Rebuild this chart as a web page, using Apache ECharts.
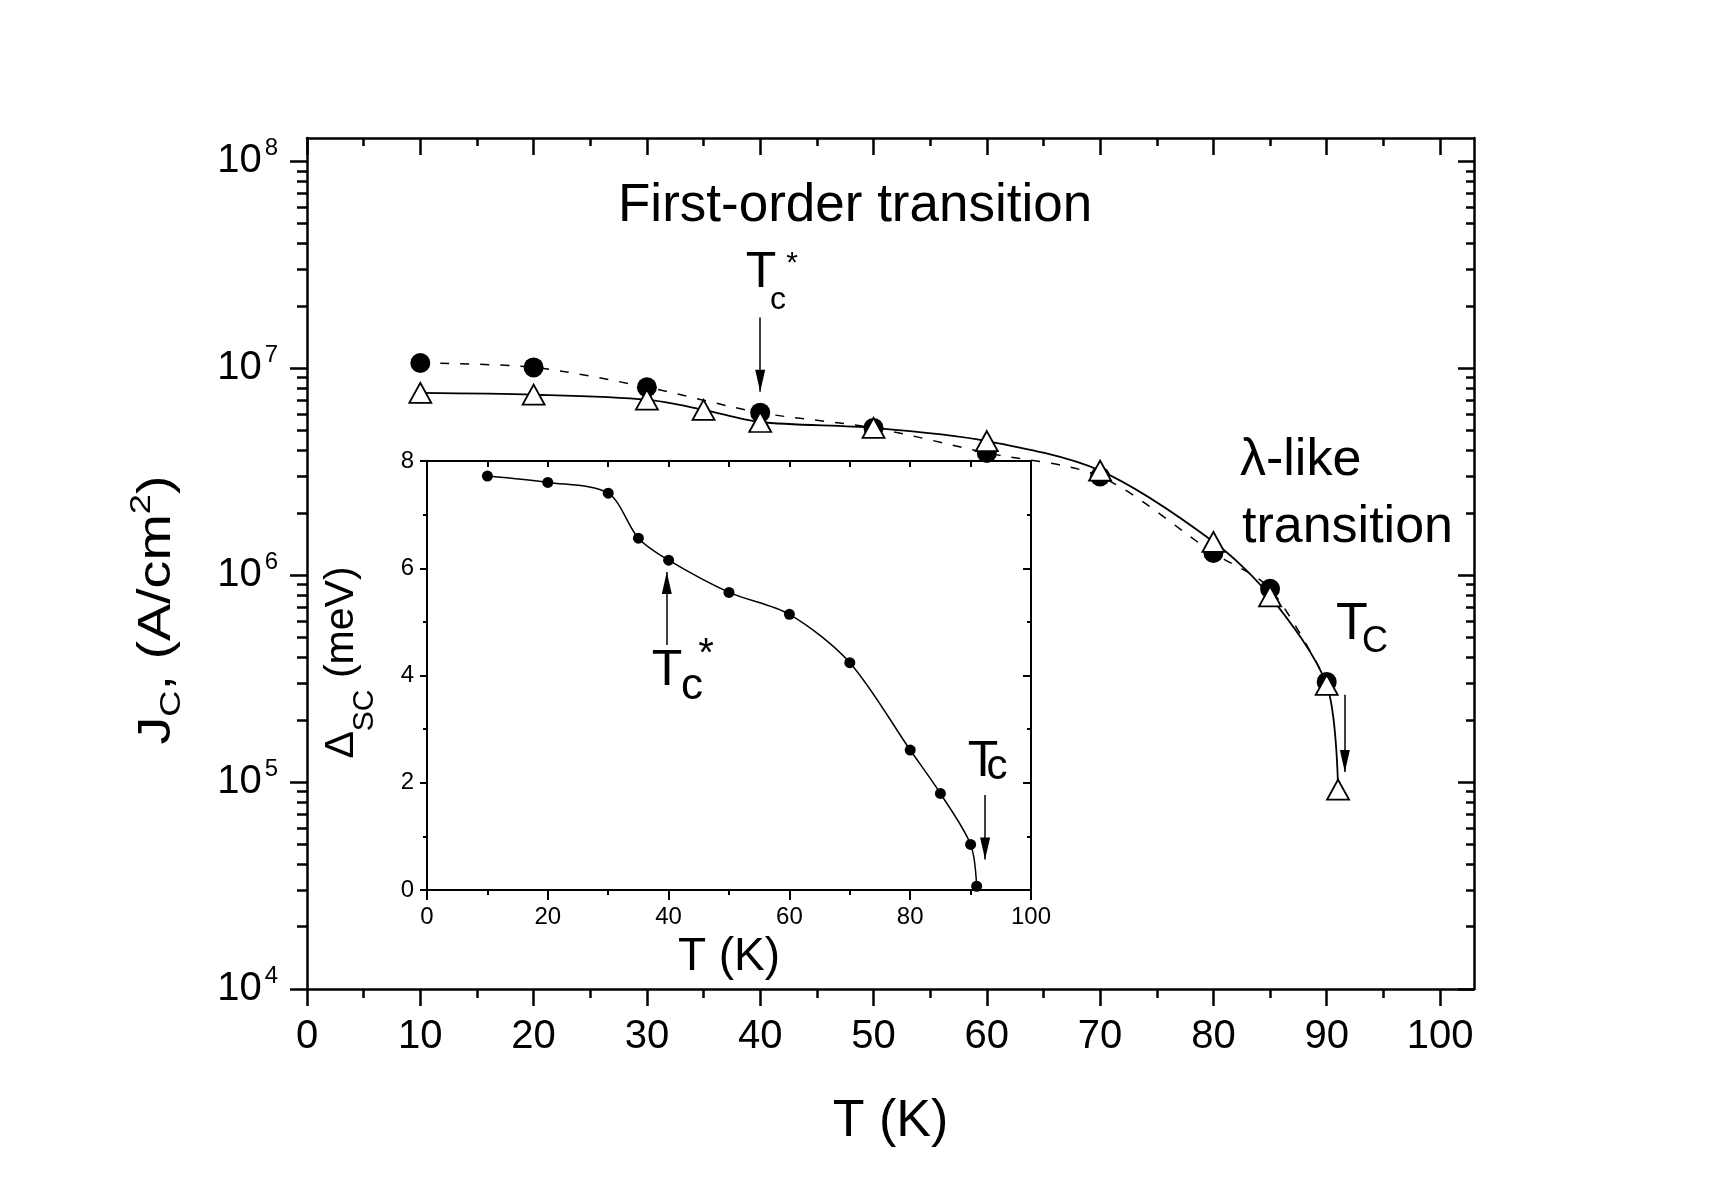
<!DOCTYPE html>
<html>
<head>
<meta charset="utf-8">
<title>Jc(T) and gap(T)</title>
<script src="https://cdn.jsdelivr.net/npm/echarts@6/dist/echarts.min.js"></script>
<style>
html, body { margin: 0; padding: 0; background: #fff; }
#main { width: 1710px; height: 1186px; }
</style>
</head>
<body>
<div id="main"></div>
<script>
// main panel: Jc (A/cm^2) vs T, two data sets
var circleT = [10, 20, 30, 40, 50, 60, 70, 80, 85, 90];
var circleJc = [1.06e7, 1.01e7, 8.1e6, 6.1e6, 5.15e6, 3.9e6, 3.0e6, 1.28e6, 8.6e5, 3.05e5];
var triangleT = [10, 20, 30, 35, 40, 50, 60, 70, 80, 85, 90, 91];
var triangleJc = [7.6e6, 7.45e6, 7.05e6, 6.3e6, 5.5e6, 5.15e6, 4.45e6, 3.2e6, 1.45e6, 7.9e5, 2.95e5, 9.2e4];

// inset: superconducting gap (meV) vs T
var gapT = [10, 20, 30, 35, 40, 50, 60, 70, 80, 85, 90, 91];
var gapMeV = [7.72, 7.60, 7.40, 6.56, 6.15, 5.55, 5.14, 4.24, 2.61, 1.80, 0.85, 0.07];

// ticks
var mainXTicks = [0, 10, 20, 30, 40, 50, 60, 70, 80, 90, 100];
var mainXMinor = [5, 15, 25, 35, 45, 55, 65, 75, 85, 95];
var mainYTicks = [1e4, 1e5, 1e6, 1e7, 1e8];
var insetXTicks = [0, 20, 40, 60, 80, 100];
var insetXMinor = [10, 30, 50, 70, 90];
var insetYTicks = [0, 2, 4, 6, 8];
var insetYMinor = [1, 3, 5, 7];

// arrows [from, to] in data units
var mainArrows = [[[40, 1.76e7], [40, 7.7e6]], [[91.6, 2.64e5], [91.6, 1.12e5]]];
var insetArrows = [[[39.7, 4.57], [39.7, 5.93]], [[92.4, 1.77], [92.4, 0.57]]];

var black = '#000';
var fontName = '"Liberation Sans", Arial, sans-serif';
var mainXRange = [0, 103];
var mainYRange = [1e4, 1.297e8];
var insetXRange = [0, 100];
var insetYRange = [0, 8];

var mainYMinor = [];
mainYTicks.slice(0, -1).forEach(function (d) {
    for (var k = 2; k <= 9; k++) {
        mainYMinor.push(k * d);
    }
});

var pairs = function (xs, ys) {
    return xs.map(function (x, i) { return [x, ys[i]]; });
};

var tickAxis = function (type, grid, pos, range, values, len, inside, width) {
    var a = {
        type: type,
        gridIndex: grid,
        position: pos,
        min: range[0],
        max: range[1],
        axisLine: { show: false, onZero: false },
        axisTick: {
            show: true, inside: inside, length: len, customValues: values,
            lineStyle: { color: black, width: width }
        },
        axisLabel: { show: false },
        splitLine: { show: false },
        minorTick: { show: false },
        nameMoveOverlap: false
    };
    if (type === 'log') {
        a.logBase = 10;
    }
    return a;
};

var withLine = function (a, width) {
    a.axisLine = { show: true, onZero: false, lineStyle: { color: black, width: width } };
    return a;
};

// main x
var mX0 = withLine(tickAxis('value', 0, 'bottom', mainXRange, mainXTicks, 17, false, 2.5), 2.5);
mX0.axisLabel = { show: true, customValues: mainXTicks, fontSize: 40, fontFamily: fontName, color: black, margin: 28 };
mX0.name = 'T (K)';
mX0.nameLocation = 'middle';
mX0.nameGap = 107;
mX0.nameTextStyle = { fontSize: 52, fontFamily: fontName, color: black };
var mX1 = tickAxis('value', 0, 'bottom', mainXRange, mainXMinor, 9, false, 2.5);
var mX2 = withLine(tickAxis('value', 0, 'top', mainXRange, mainXTicks, 17, true, 2.5), 2.5);
var mX3 = tickAxis('value', 0, 'top', mainXRange, mainXMinor, 8, true, 2.5);

// main y (log)
var mY0 = withLine(tickAxis('log', 0, 'left', mainYRange, mainYTicks, 17, false, 2.5), 2.5);
mY0.axisLabel = {
    show: true, customValues: mainYTicks, margin: 29,
    formatter: function (v) {
        var n = Math.round(Math.log(v) / Math.LN10);
        return '{b|10}{s|' + n + '}';
    },
    rich: {
        b: { fontSize: 40, lineHeight: 50, fontFamily: fontName, color: black },
        s: { fontSize: 24, lineHeight: 16, verticalAlign: 'top', padding: [0, 0, 0, 3], fontFamily: fontName, color: black }
    }
};
var mY1 = tickAxis('log', 0, 'left', mainYRange, mainYMinor, 10, false, 2.5);
var mY2 = withLine(tickAxis('log', 0, 'right', mainYRange, mainYTicks, 16, true, 2.5), 2.5);
var mY3 = tickAxis('log', 0, 'right', mainYRange, mainYMinor, 8, true, 2.5);

// inset x
var iX0 = withLine(tickAxis('value', 1, 'bottom', insetXRange, insetXTicks, 10, false, 2), 2);
iX0.axisLabel = { show: true, customValues: insetXTicks, fontSize: 24, fontFamily: fontName, color: black, margin: 15 };
iX0.name = 'T (K)';
iX0.nameLocation = 'middle';
iX0.nameGap = 44;
iX0.nameTextStyle = { fontSize: 46, fontFamily: fontName, color: black };
var iX1 = tickAxis('value', 1, 'bottom', insetXRange, insetXMinor, 5, false, 2);
var iX2 = withLine(tickAxis('value', 1, 'top', insetXRange, insetXTicks, 6, true, 2), 2);
var iX3 = tickAxis('value', 1, 'top', insetXRange, insetXMinor, 6, true, 2);

// inset y
var iY0 = withLine(tickAxis('value', 1, 'left', insetYRange, insetYTicks, 7, false, 2), 2);
iY0.axisLabel = { show: true, customValues: insetYTicks, fontSize: 24, fontFamily: fontName, color: black, margin: 13 };
iY0.name = '{a|Δ}{b|SC}{a| (meV)}';
iY0.nameLocation = 'middle';
iY0.nameRotate = 90;
iY0.nameGap = 47;
iY0.nameTextStyle = {
    padding: [0, 0, 0, 26],
    rich: {
        a: { fontSize: 41, lineHeight: 76, fontFamily: fontName, color: black },
        b: { fontSize: 30, lineHeight: 30, verticalAlign: 'bottom', fontFamily: fontName, color: black }
    }
};
var iY1 = tickAxis('value', 1, 'left', insetYRange, insetYMinor, 4, false, 2);
var iY2 = withLine(tickAxis('value', 1, 'right', insetYRange, insetYTicks, 8, true, 2), 2);
var iY3 = tickAxis('value', 1, 'right', insetYRange, insetYMinor, 4, true, 2);

var arrowLines = function (list) {
    return {
        silent: true,
        animation: false,
        symbol: ['none', 'triangle'],
        symbolSize: [10, 22],
        symbolOffset: [[0, 0], [0, '50%']],
        label: { show: false },
        emphasis: { disabled: true },
        lineStyle: { color: black, width: 1.5, type: 'solid' },
        data: list.map(function (a) {
            return [{ coord: a[0] }, { coord: a[1] }];
        })
    };
};

var label = function (text, x, y, size, align) {
    return {
        type: 'text', x: x, y: y, silent: true,
        style: {
            text: text, fontSize: size, fontFamily: fontName, fill: black,
            textAlign: align || 'center', align: align || 'center',
            textVerticalAlign: 'middle', verticalAlign: 'middle'
        }
    };
};

// y title of the main panel, drawn stretched like the original lettering
var jcTitle = {
    type: 'text', x: 157, y: 610, rotation: Math.PI / 2, scaleX: 1.21, silent: true,
    style: {
        text: '{a|J}{b|C}{a|, (A/cm}{c|2}{a|)}',
        align: 'center', verticalAlign: 'middle',
        textAlign: 'center', textVerticalAlign: 'middle',
        rich: {
            a: { fontSize: 46, lineHeight: 60, fontFamily: fontName, fill: black, color: black },
            b: { fontSize: 30, lineHeight: 32, verticalAlign: 'bottom', fontFamily: fontName, fill: black, color: black },
            c: { fontSize: 30, lineHeight: 20, verticalAlign: 'top', fontFamily: fontName, fill: black, color: black }
        }
    }
};

var myChart = echarts.init(document.getElementById('main'));
myChart.setOption({
    backgroundColor: '#fff',
    animation: false,
    grid: [
        { left: 307, top: 138, width: 1167, height: 851, outerBoundsMode: 'none' },
        { left: 427, top: 461, width: 604, height: 429, outerBoundsMode: 'none' }
    ],
    xAxis: [mX0, mX1, mX2, mX3, iX0, iX1, iX2, iX3],
    yAxis: [mY0, mY1, mY2, mY3, iY0, iY1, iY2, iY3],
    graphic: [
        jcTitle,
        label('First-order transition', 618, 206, 53, 'left'),
        label('T', 761, 273, 50),
        label('c', 778, 300, 32),
        label('*', 792, 264, 30),
        label('\u03bb-like', 1240, 461, 52, 'left'),
        label('transition', 1242, 528, 52, 'left'),
        label('T', 1352, 625, 52),
        label('C', 1375, 642, 36),
        label('T', 667, 671, 50),
        label('c', 692, 687, 44),
        label('*', 706, 655, 40),
        label('T', 983, 762, 50),
        label('c', 997, 767, 42)
    ],
    series: [
        {
            name: 'circles',
            type: 'line',
            xAxisIndex: 0,
            yAxisIndex: 0,
            data: pairs(circleT, circleJc),
            smooth: 0.3,
            symbol: 'circle',
            symbolSize: 20,
            itemStyle: { color: black },
            lineStyle: { color: black, width: 1.5, type: [9, 11] },
            markLine: arrowLines(mainArrows),
            z: 2
        },
        {
            name: 'triangles',
            type: 'line',
            xAxisIndex: 0,
            yAxisIndex: 0,
            data: pairs(triangleT, triangleJc),
            smooth: 0.3,
            symbol: 'triangle',
            symbolSize: [22, 20],
            itemStyle: { color: '#fff', borderColor: black, borderWidth: 1.8 },
            lineStyle: { color: black, width: 1.8 },
            z: 3
        },
        {
            name: 'gap',
            type: 'line',
            xAxisIndex: 4,
            yAxisIndex: 4,
            data: pairs(gapT, gapMeV),
            smooth: 0.3,
            symbol: 'circle',
            symbolSize: 11,
            itemStyle: { color: black },
            lineStyle: { color: black, width: 1.5 },
            markLine: arrowLines(insetArrows),
            z: 4
        }
    ]
});
</script>
</body>
</html>
